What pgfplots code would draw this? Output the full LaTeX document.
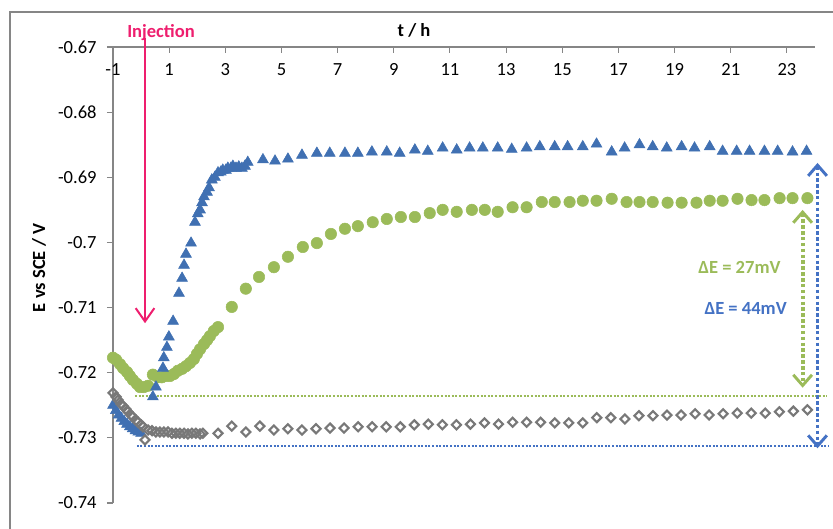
\documentclass[border=0pt]{standalone}
\usepackage{fontspec}
\setmainfont{Carlito}
\usepackage{pgfplots}
\pgfplotsset{compat=1.18}
\usetikzlibrary{arrows.meta}
\definecolor{bluem}{RGB}{64,112,178}
\definecolor{greenm}{RGB}{155,187,89}
\definecolor{graym}{RGB}{120,120,120}
\definecolor{pinkm}{RGB}{238,30,110}
\definecolor{axgray}{RGB}{134,134,134}
\definecolor{blueline}{RGB}{68,114,196}
\begin{document}
\fontsize{13.9}{16}\selectfont
\begin{tikzpicture}
\useasboundingbox (0,0) rectangle (624.75pt,396.75pt);
\draw[axgray, line width=1.1pt] (7.5pt,0) -- (7.5pt,387.75pt) -- (624.75pt,387.75pt);
\begin{axis}[
  at={(84.75pt,19.5pt)}, anchor=south west,
  scale only axis, width=526.5pt, height=342pt,
  xmin=-1, xmax=24, ymin=-0.74, ymax=-0.67,
  axis x line*=top, axis y line*=left,
  axis line style={axgray, line width=0.8pt},
  xtick={-1,1,3,5,7,9,11,13,15,17,19,21,23},
  xticklabels={-1,1,3,5,7,9,11,13,15,17,19,21,23},
  ytick={-0.74,-0.73,-0.72,-0.71,-0.70,-0.69,-0.68,-0.67},
  yticklabels={-0.74,-0.73,-0.72,-0.71,-0.7,-0.69,-0.68,-0.67},
  tick style={axgray, line width=0.8pt},
  major tick length=4.5pt,
  tick align=outside,
  every major x tick/.append style={yshift=-4.5pt},
  xticklabel style={anchor=north, yshift=-12pt, font=\fontsize{13.9}{16}\selectfont},
  yticklabel style={xshift=-3pt, font=\fontsize{13.9}{16}\selectfont},
  clip=false,
]
\addplot[only marks, mark=*, mark size=4.3pt, mark options={draw=greenm, fill=greenm}] coordinates {
(-1.00,-0.7177) (-0.89,-0.7180) (-0.75,-0.7187) (-0.64,-0.7193) (-0.50,-0.7199) (-0.40,-0.7205)
(-0.29,-0.7211) (-0.15,-0.7217) (-0.04,-0.7222) (0.10,-0.7222) (0.25,-0.7220)
(0.42,-0.7203) (0.60,-0.7207) (0.74,-0.7207) (0.89,-0.7205) (1.03,-0.7205) (1.17,-0.7202)
(1.31,-0.7197) (1.46,-0.7194) (1.60,-0.7190) (1.74,-0.7185) (1.88,-0.7179) (1.99,-0.7171)
(2.10,-0.7164) (2.24,-0.7156) (2.35,-0.7150) (2.45,-0.7144) (2.59,-0.7136) (2.74,-0.7130)
(3.23,-0.7099) (3.73,-0.7071) (4.20,-0.7053) (4.73,-0.7038) (5.23,-0.7022) (5.76,-0.7007)
(6.26,-0.7001) (6.76,-0.6987) (7.26,-0.6979) (7.72,-0.6975) (8.25,-0.6969) (8.75,-0.6964)
(9.25,-0.6961) (9.75,-0.6961) (10.28,-0.6955) (10.74,-0.6950) (11.24,-0.6953) (11.78,-0.6950)
(12.24,-0.6950) (12.70,-0.6953) (13.23,-0.6946) (13.73,-0.6946) (14.27,-0.6938) (14.73,-0.6938)
(15.26,-0.6938) (15.73,-0.6936) (16.22,-0.6936) (16.76,-0.6933) (17.29,-0.6938) (17.75,-0.6938)
(18.22,-0.6938) (18.75,-0.6939) (19.25,-0.6939) (19.78,-0.6939) (20.25,-0.6936) (20.71,-0.6936)
(21.24,-0.6933) (21.74,-0.6935) (22.20,-0.6935) (22.74,-0.6932) (23.20,-0.6932) (23.73,-0.6932)
};
\addplot[only marks, mark=triangle*, mark size=4.7pt, mark options={draw=bluem, fill=bluem}] coordinates {
(-1.0,-0.7250) (-0.9,-0.7258) (-0.8,-0.7265) (-0.7,-0.7270) (-0.6,-0.7275) (-0.5,-0.7279)
(-0.4,-0.7283) (-0.3,-0.7286) (-0.2,-0.7289) (-0.1,-0.7291) (0.0,-0.7293)
(0.42,-0.7237) (0.53,-0.7222) (0.78,-0.7193) (0.81,-0.7177) (0.92,-0.7161) (0.99,-0.7145)
(1.14,-0.7121) (1.35,-0.7078) (1.46,-0.7055) (1.53,-0.7035) (1.60,-0.7018) (1.78,-0.7001)
(1.92,-0.6969) (2.02,-0.6956) (2.10,-0.6950) (2.17,-0.6939) (2.24,-0.6930) (2.35,-0.6923)
(2.42,-0.6916) (2.52,-0.6904) (2.63,-0.6900) (2.74,-0.6893) (2.84,-0.6892) (2.91,-0.6889)
(3.02,-0.6889) (3.09,-0.6886) (3.20,-0.6886) (3.27,-0.6883) (3.38,-0.6886) (3.48,-0.6884)
(3.59,-0.6886) (3.70,-0.6883) (3.80,-0.6877) (4.34,-0.6873) (4.77,-0.6875) (5.23,-0.6872)
(5.73,-0.6866) (6.26,-0.6863) (6.72,-0.6863) (7.26,-0.6863) (7.72,-0.6863) (8.22,-0.6861)
(8.75,-0.6861) (9.21,-0.6863) (9.75,-0.6858) (10.21,-0.6860) (10.74,-0.6855) (11.24,-0.6858)
(11.70,-0.6855) (12.17,-0.6855) (12.70,-0.6855) (13.20,-0.6857) (13.73,-0.6855) (14.20,-0.6853)
(14.73,-0.6853) (15.19,-0.6853) (15.73,-0.6853) (16.22,-0.6849) (16.76,-0.6861) (17.22,-0.6855)
(17.75,-0.6850) (18.22,-0.6853) (18.72,-0.6855) (19.25,-0.6853) (19.71,-0.6855) (20.25,-0.6853)
(20.71,-0.6860) (21.21,-0.6860) (21.67,-0.6860) (22.20,-0.6860) (22.67,-0.6860) (23.20,-0.6861)
(23.70,-0.6860)
};
\addplot[only marks, mark=square, mark size=2.4pt, mark options={draw=graym, fill=white, line width=1.6pt, rotate=45}] coordinates {
(-1.00,-0.7231) (-0.89,-0.7237) (-0.82,-0.7242) (-0.72,-0.7248) (-0.64,-0.7251) (-0.54,-0.7256)
(-0.47,-0.7260) (-0.36,-0.7265) (-0.29,-0.7268) (-0.18,-0.7273) (-0.11,-0.7276) (0.00,-0.7280)
(0.07,-0.7283) (0.14,-0.7303) (0.25,-0.7288) (0.39,-0.7289) (0.53,-0.7291) (0.67,-0.7291)
(0.81,-0.7291) (0.96,-0.7291) (1.10,-0.7293) (1.24,-0.7293) (1.38,-0.7293) (1.53,-0.7293)
(1.67,-0.7294) (1.81,-0.7293) (1.95,-0.7293) (2.10,-0.7294) (2.20,-0.7293) (2.74,-0.7293)
(3.23,-0.7282) (3.73,-0.7291) (4.23,-0.7282) (4.73,-0.7288) (5.23,-0.7286) (5.73,-0.7288)
(6.23,-0.7286) (6.73,-0.7285) (7.23,-0.7285) (7.73,-0.7283) (8.23,-0.7283) (8.73,-0.7283)
(9.23,-0.7283) (9.73,-0.7280) (10.23,-0.7279) (10.73,-0.7280) (11.23,-0.7280) (11.73,-0.7279)
(12.23,-0.7277) (12.73,-0.7279) (13.23,-0.7276) (13.73,-0.7276) (14.23,-0.7276) (14.73,-0.7277)
(15.23,-0.7277) (15.73,-0.7277) (16.23,-0.7269) (16.73,-0.7269) (17.23,-0.7271) (17.73,-0.7266)
(18.23,-0.7266) (18.73,-0.7265) (19.23,-0.7265) (19.73,-0.7263) (20.23,-0.7265) (20.73,-0.7263)
(21.23,-0.7262) (21.73,-0.7262) (22.23,-0.7262) (22.73,-0.7260) (23.23,-0.7259) (23.73,-0.7257)
};
% reference levels
\draw[greenm, line width=1.6pt, dash pattern=on 1.5pt off 1.2pt] (axis cs:-0.22,-0.7236) -- (axis cs:24.4,-0.7236);
\draw[blueline, line width=1.6pt, dash pattern=on 1.5pt off 1.2pt] (axis cs:-0.15,-0.7312) -- (axis cs:24.5,-0.7312);
% delta E arrows
\draw[greenm, line width=2.8pt, dash pattern=on 2.6pt off 1.8pt, {Straight Barb[length=8pt,width=14pt,line width=2.2pt]}-{Straight Barb[length=8pt,width=14pt,line width=2.2pt]}] (axis cs:23.56,-0.6950) -- (axis cs:23.56,-0.7223);
\draw[blueline, line width=2.8pt, dash pattern=on 2.6pt off 1.8pt, {Straight Barb[length=8pt,width=14pt,line width=2.2pt]}-{Straight Barb[length=8pt,width=14pt,line width=2.2pt]}] (axis cs:24.09,-0.6878) -- (axis cs:24.09,-0.7316);
\node[greenm, font=\bfseries] at (axis cs:21.31,-0.7038) {ΔE = 27mV};
\node[blueline, font=\bfseries] at (axis cs:21.53,-0.7101) {ΔE = 44mV};
% injection
\draw[pinkm, line width=1.5pt, -{Straight Barb[length=10pt,width=14pt,line width=1.5pt]}] (axis cs:0.14,-0.6686) -- (axis cs:0.14,-0.7124);
\end{axis}
\node[pinkm, font=\bfseries] at (120.75pt,372pt) {Injection};
\node[font=\bfseries] at (310.5pt,374.25pt) {t / h};
\node[font=\bfseries, rotate=90] at (29.25pt,195.75pt) {E vs SCE / V};
\end{tikzpicture}
\end{document}
